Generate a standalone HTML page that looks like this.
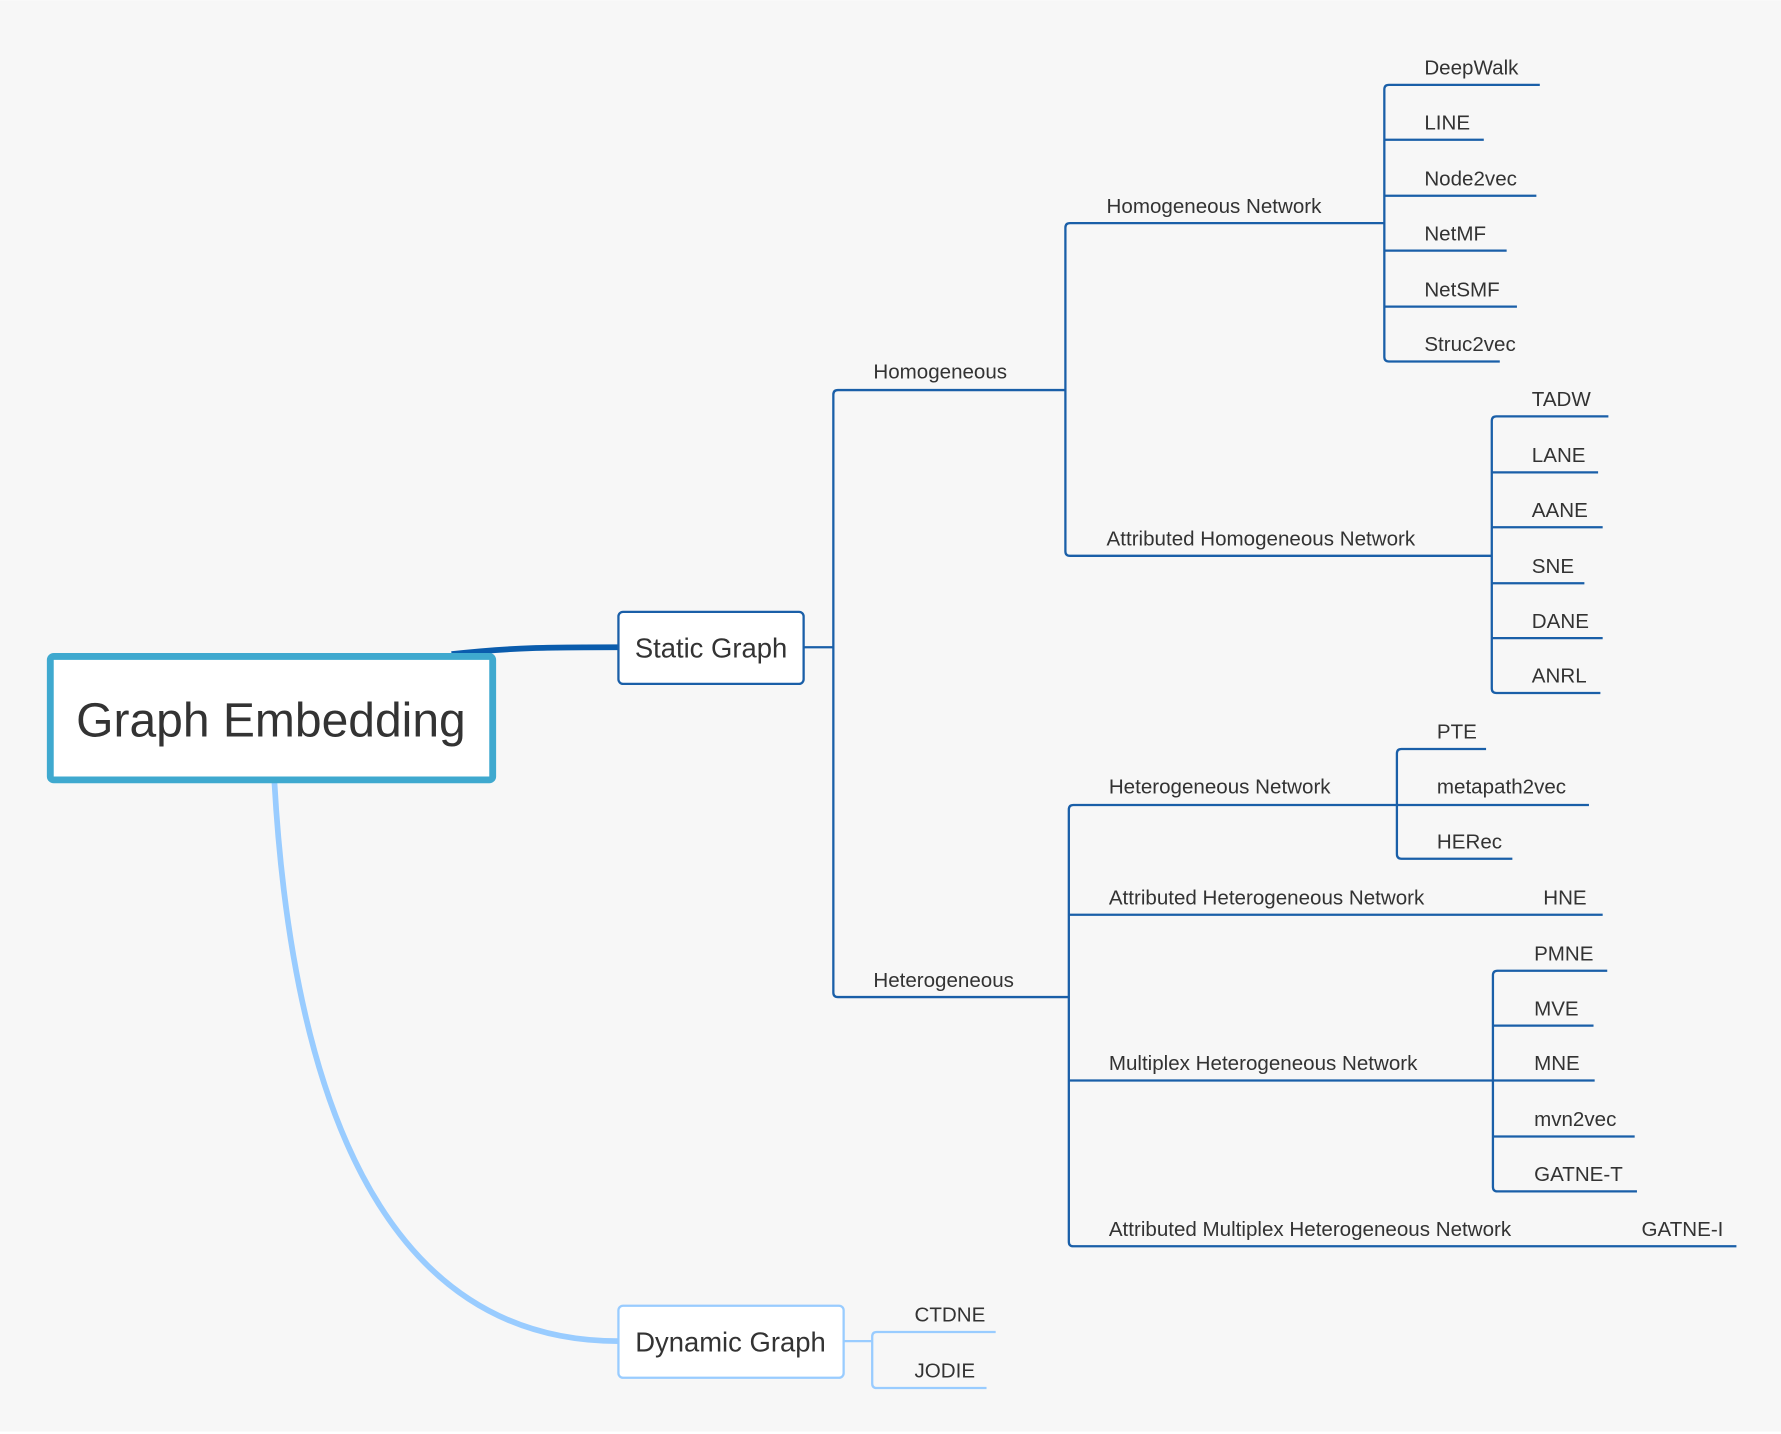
<!DOCTYPE html>
<html><head><meta charset="utf-8"><style>
html,body{margin:0;padding:0;background:#fff}
svg{display:block}
text{font-family:"Liberation Sans",sans-serif;fill:#333}
</style></head><body>
<svg width="1781" height="1434" viewBox="0 0 1558 1254" xmlns="http://www.w3.org/2000/svg">
<rect x="0" y="0" width="1558" height="1252" fill="#f7f7f7"/>
<!-- root connectors -->
<path d="M395 572 C450 566 480 566 541 566" stroke="#0a5cad" stroke-width="5" fill="none"/>
<path d="M240 683 C255 950 330 1173 541 1173" stroke="#99ccff" stroke-width="5" fill="none"/>
<!-- root -->
<rect x="44" y="574" width="387" height="108" rx="3" fill="#fff" stroke="#3fa9cf" stroke-width="6"/>
<text x="237" y="644" font-size="42" text-anchor="middle">Graph Embedding</text>
<!-- static -->
<rect x="541" y="535" width="162" height="63" rx="4" fill="#fff" stroke="#1a5fa8" stroke-width="2"/>
<text x="622" y="575" font-size="24" text-anchor="middle">Static Graph</text>
<rect x="541" y="1142" width="197" height="63" rx="4" fill="#fff" stroke="#99ccff" stroke-width="2"/>
<text x="639" y="1182" font-size="24" text-anchor="middle">Dynamic Graph</text>

<g stroke="#1a5fa8" stroke-width="2" fill="none">
<path d="M703 566 H729"/>
<path d="M932 341 H733 Q729 341 729 345 V868 Q729 872 733 872 H935"/>
<path d="M1211 195 H936 Q932 195 932 199 V482 Q932 486 936 486 H1305"/>
<path d="M1347 74 H1215 Q1211 74 1211 78 V312 Q1211 316 1215 316 H1312"/>
<path d="M1211 122 H1298 M1211 171 H1344 M1211 219 H1318 M1211 268 H1327"/>
<path d="M1407 364 H1309 Q1305 364 1305 368 V602 Q1305 606 1309 606 H1400"/>
<path d="M1305 413 H1398 M1305 461 H1402 M1305 510 H1386 M1305 558 H1402"/>
<path d="M1222 704 H939 Q935 704 935 708 V1086 Q935 1090 939 1090 H1519"/>
<path d="M935 800 H1402 M935 945 H1306"/>
<path d="M1300 655 H1226 Q1222 655 1222 659 V747 Q1222 751 1226 751 H1323 M1222 704 H1390"/>
<path d="M1406 849 H1310 Q1306 849 1306 853 V1038 Q1306 1042 1310 1042 H1432"/>
<path d="M1306 897 H1394 M1306 945 H1395 M1306 994 H1430"/>
</g>
<g stroke="#99ccff" stroke-width="2" fill="none">
<path d="M738 1173 H763"/>
<path d="M871 1165 H767 Q763 1165 763 1169 V1210 Q763 1214 767 1214 H863"/>
</g>
<g font-size="18">
<text x="764" y="331">Homogeneous</text>
<text x="764" y="863">Heterogeneous</text>
<text x="968" y="186">Homogeneous Network</text>
<text x="968" y="477">Attributed Homogeneous Network</text>
<text x="1246" y="65">DeepWalk</text>
<text x="1246" y="113">LINE</text>
<text x="1246" y="162">Node2vec</text>
<text x="1246" y="210">NetMF</text>
<text x="1246" y="259">NetSMF</text>
<text x="1246" y="307">Struc2vec</text>
<text x="1340" y="355">TADW</text>
<text x="1340" y="404">LANE</text>
<text x="1340" y="452">AANE</text>
<text x="1340" y="501">SNE</text>
<text x="1340" y="549">DANE</text>
<text x="1340" y="597">ANRL</text>
<text x="970" y="694">Heterogeneous Network</text>
<text x="970" y="791">Attributed Heterogeneous Network</text>
<text x="970" y="936">Multiplex Heterogeneous Network</text>
<text x="970" y="1081">Attributed Multiplex Heterogeneous Network</text>
<text x="1257" y="646">PTE</text>
<text x="1257" y="694">metapath2vec</text>
<text x="1257" y="742">HERec</text>
<text x="1350" y="791">HNE</text>
<text x="1342" y="840">PMNE</text>
<text x="1342" y="888">MVE</text>
<text x="1342" y="936">MNE</text>
<text x="1342" y="985">mvn2vec</text>
<text x="1342" y="1033">GATNE-T</text>
<text x="1436" y="1081">GATNE-I</text>
<text x="800" y="1156">CTDNE</text>
<text x="800" y="1205">JODIE</text>
</g>
</svg>
</body></html>
